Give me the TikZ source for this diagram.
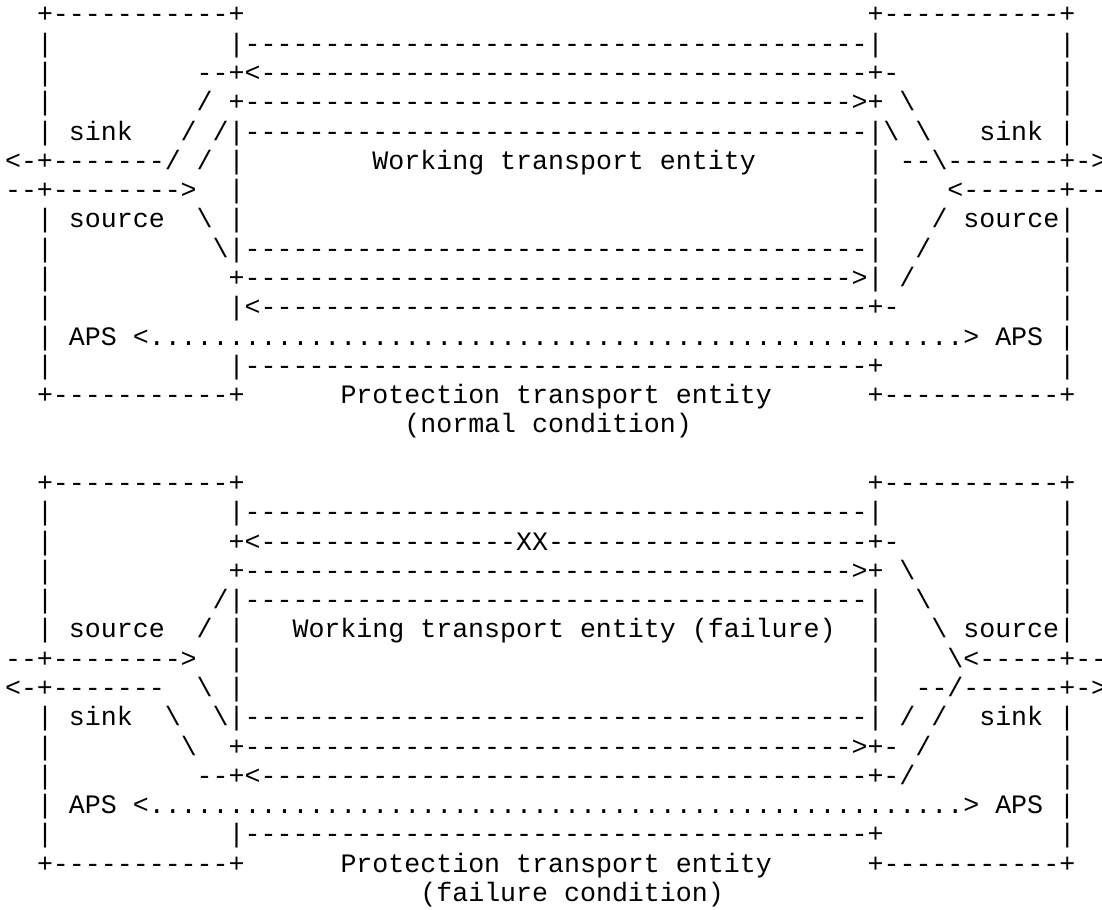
\documentclass[tikz,border=0pt]{standalone}
\usepackage{fontspec}
\setmonofont{Liberation Mono}
\usepackage{tikz}
\usetikzlibrary{positioning}

\ExplSyntaxOn
\cs_new:Npn \artrun #1#2 { \prg_replicate:nn {#1} {#2} }
\ExplSyntaxOff
\newcommand\artgap[1]{\artrun{#1}{~}}
\newcommand\artbs{\textbackslash}

\tikzset{
  artrow/.style = {anchor=base west, inner sep=0pt, outer sep=0pt,
                   font=\ttfamily\fontsize{10}{11}\selectfont}
}

\begin{document}
\begin{tikzpicture}[x=6pt, y=-11pt]
\useasboundingbox (-1.9pt,8.64pt) rectangle (412.1pt,-332.9pt);

% normal condition
\node[artrow] (n1)  at (0,0)  {\artgap{2}+\artrun{11}{-}+\artgap{39}+\artrun{11}{-}+};
\node[artrow] (n2)  at (0,1)  {\artgap{2}|\artgap{11}|\artrun{39}{-}|\artgap{11}|};
\node[artrow] (n3)  at (0,2)  {\artgap{2}|\artgap{9}--+<\artrun{38}{-}+-\artgap{10}|};
\node[artrow] (n4)  at (0,3)  {\artgap{2}|\artgap{9}/\artgap{1}+\artrun{38}{-}>+\artgap{1}\artbs\artgap{9}|};
\node[artrow] (n5)  at (0,4)  {\artgap{2}|\artgap{1}sink\artgap{3}/\artgap{1}/|\artrun{39}{-}|\artbs\artgap{1}\artbs\artgap{3}sink\artgap{1}|};
\node[artrow] (n6)  at (0,5)  {<-+\artrun{7}{-}/\artgap{1}/\artgap{1}|\artgap{8}Working transport entity\artgap{7}|\artgap{1}--\artbs\artrun{7}{-}+->};
\node[artrow] (n7)  at (0,6)  {--+\artrun{8}{-}>\artgap{2}|\artgap{39}|\artgap{4}<\artrun{6}{-}+--};
\node[artrow] (n8)  at (0,7)  {\artgap{2}|\artgap{1}source\artgap{2}\artbs\artgap{1}|\artgap{39}|\artgap{3}/\artgap{1}source|};
\node[artrow] (n9)  at (0,8)  {\artgap{2}|\artgap{10}\artbs|\artrun{39}{-}|\artgap{2}/\artgap{8}|};
\node[artrow] (n10) at (0,9)  {\artgap{2}|\artgap{11}+\artrun{38}{-}>|\artgap{1}/\artgap{9}|};
\node[artrow] (n11) at (0,10) {\artgap{2}|\artgap{11}|<\artrun{38}{-}+-\artgap{10}|};
\node[artrow] (n12) at (0,11) {\artgap{2}|\artgap{1}APS\artgap{1}<\artrun{51}{.}>\artgap{1}APS\artgap{1}|};
\node[artrow] (n13) at (0,12) {\artgap{2}|\artgap{11}|\artrun{39}{-}+\artgap{11}|};
\node[artrow] (n14) at (0,13) {\artgap{2}+\artrun{11}{-}+\artgap{6}Protection transport entity\artgap{6}+\artrun{11}{-}+};
\node[artrow] (n15) at (0,14) {\artgap{25}(normal condition)};

% failure condition
\node[artrow] (f1)  at (0,16) {\artgap{2}+\artrun{11}{-}+\artgap{39}+\artrun{11}{-}+};
\node[artrow] (f2)  at (0,17) {\artgap{2}|\artgap{11}|\artrun{39}{-}|\artgap{11}|};
\node[artrow] (f3)  at (0,18) {\artgap{2}|\artgap{11}+<\artrun{16}{-}XX\artrun{20}{-}+-\artgap{10}|};
\node[artrow] (f4)  at (0,19) {\artgap{2}|\artgap{11}+\artrun{38}{-}>+\artgap{1}\artbs\artgap{9}|};
\node[artrow] (f5)  at (0,20) {\artgap{2}|\artgap{10}/|\artrun{39}{-}|\artgap{2}\artbs\artgap{8}|};
\node[artrow] (f6)  at (0,21) {\artgap{2}|\artgap{1}source\artgap{2}/\artgap{1}|\artgap{3}Working transport entity (failure)\artgap{2}|\artgap{3}\artbs\artgap{1}source|};
\node[artrow] (f7)  at (0,22) {--+\artrun{8}{-}>\artgap{2}|\artgap{39}|\artgap{4}\artbs<\artrun{5}{-}+--};
\node[artrow] (f8)  at (0,23) {<-+\artrun{7}{-}\artgap{2}\artbs\artgap{1}|\artgap{39}|\artgap{2}--/\artrun{6}{-}+->};
\node[artrow] (f9)  at (0,24) {\artgap{2}|\artgap{1}sink\artgap{2}\artbs\artgap{2}\artbs|\artrun{39}{-}|\artgap{1}/\artgap{1}/\artgap{2}sink\artgap{1}|};
\node[artrow] (f10) at (0,25) {\artgap{2}|\artgap{8}\artbs\artgap{2}+\artrun{38}{-}>+-\artgap{1}/\artgap{8}|};
\node[artrow] (f11) at (0,26) {\artgap{2}|\artgap{9}--+<\artrun{38}{-}+-/\artgap{9}|};
\node[artrow] (f12) at (0,27) {\artgap{2}|\artgap{1}APS\artgap{1}<\artrun{51}{.}>\artgap{1}APS\artgap{1}|};
\node[artrow] (f13) at (0,28) {\artgap{2}|\artgap{11}|\artrun{39}{-}+\artgap{11}|};
\node[artrow] (f14) at (0,29) {\artgap{2}+\artrun{11}{-}+\artgap{6}Protection transport entity\artgap{6}+\artrun{11}{-}+};
\node[artrow] (f15) at (0,30) {\artgap{26}(failure condition)};

\end{tikzpicture}
\end{document}
